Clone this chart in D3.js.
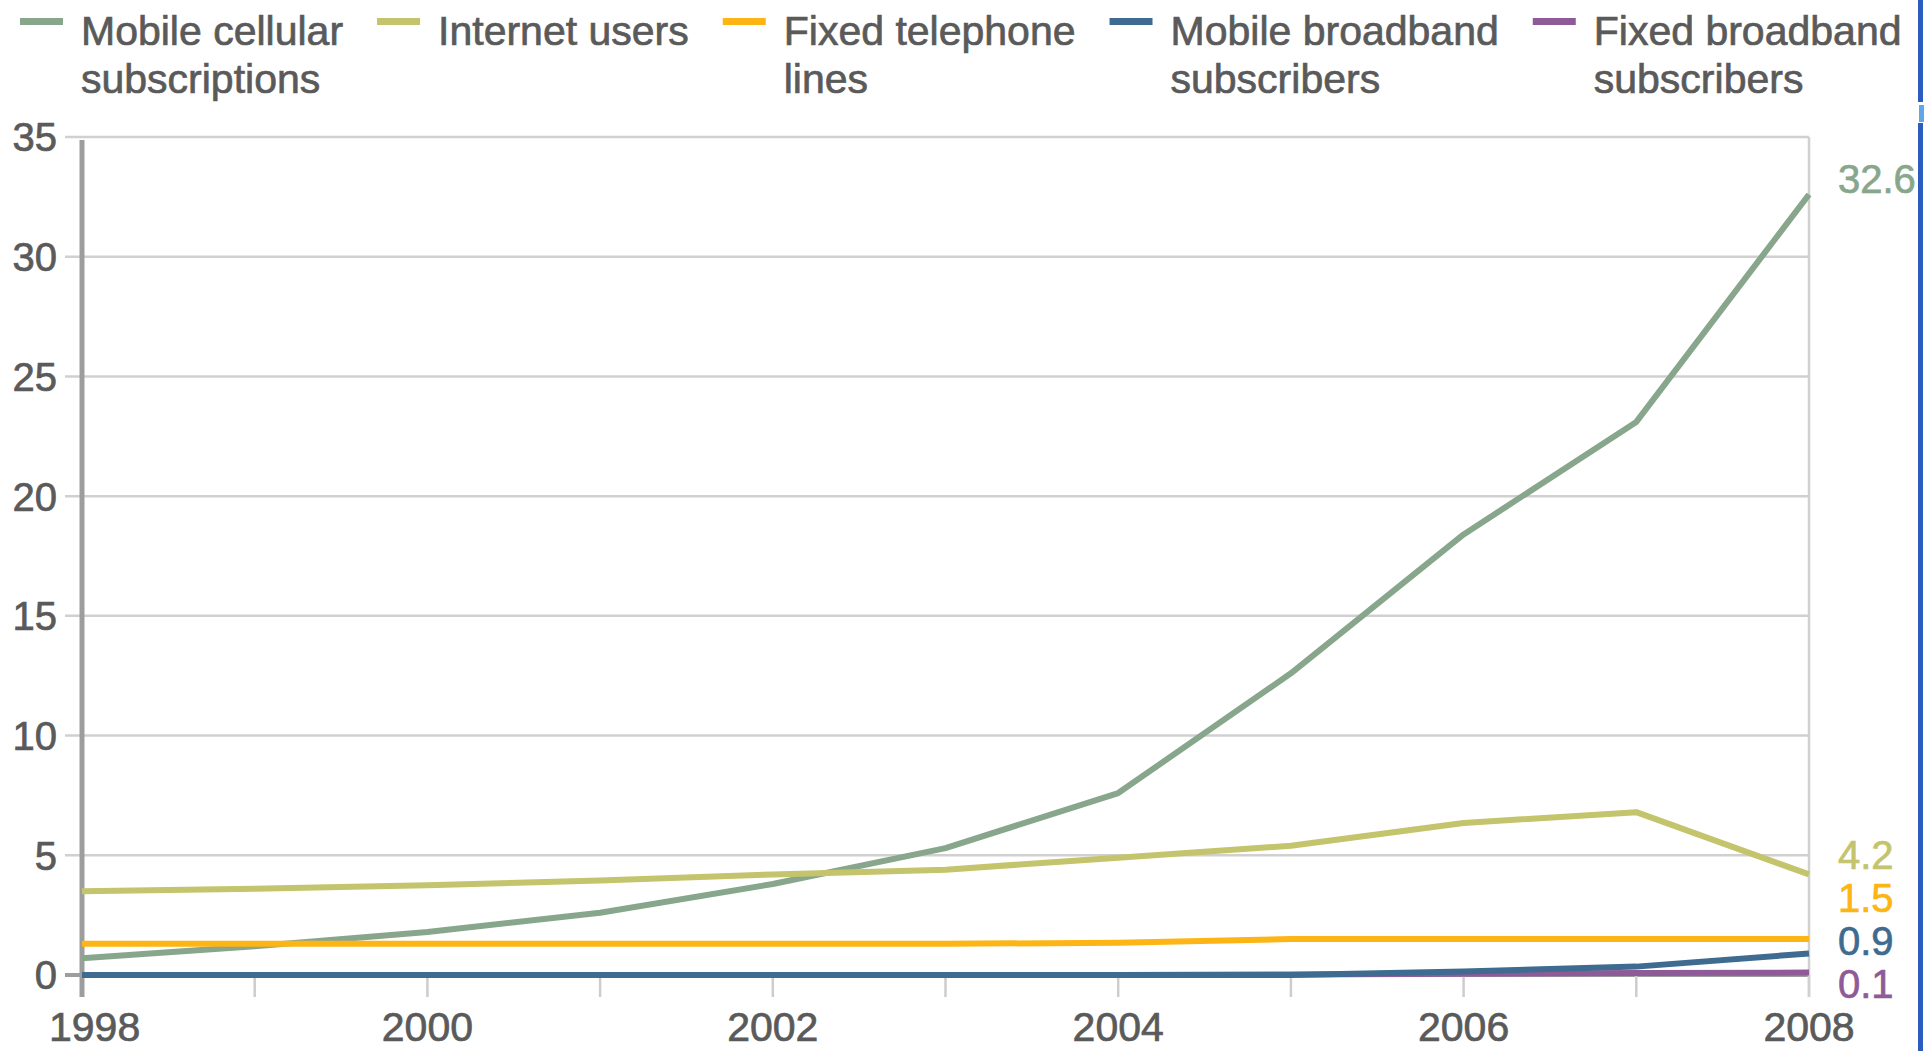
<!DOCTYPE html>
<html>
<head>
<meta charset="utf-8">
<script src="https://cdn.jsdelivr.net/npm/d3@7"></script>
<style>
  html, body { margin: 0; padding: 0; background: #fff; }
  svg { display: block; }
  text { font-family: "Liberation Sans", Arial, sans-serif; stroke-width: 0.7px; paint-order: stroke; }
</style>
</head>
<body>
<svg id="chart" width="1927" height="1051"></svg>
<script>
// Subscriptions per 100 inhabitants, 1998-2008
const years = [1998, 1999, 2000, 2001, 2002, 2003, 2004, 2005, 2006, 2007, 2008];
const mobileCellular  = [0.7, 1.2, 1.8, 2.6, 3.8, 5.3, 7.6, 12.6, 18.4, 23.1, 32.6];
const internetUsers   = [3.5, 3.6, 3.75, 3.95, 4.2, 4.4, 4.9, 5.4, 6.35, 6.8, 4.2];
const fixedTelephone  = [1.3, 1.3, 1.3, 1.3, 1.3, 1.3, 1.35, 1.5, 1.5, 1.5, 1.5];
const mobileBroadband = [0, 0, 0, 0, 0, 0, 0, 0, 0.15, 0.35, 0.9];
const fixedBroadband  = [0, 0, 0, 0, 0, 0, 0, 0.02, 0.05, 0.08, 0.1];

const seriesNames = [
  ["Mobile cellular", "subscriptions"],
  ["Internet users"],
  ["Fixed telephone", "lines"],
  ["Mobile broadband", "subscribers"],
  ["Fixed broadband", "subscribers"]
];
const seriesValues = [mobileCellular, internetUsers, fixedTelephone, mobileBroadband, fixedBroadband];
const seriesColors = ["#88a68b", "#c3c46c", "#fdb515", "#3e6b8f", "#8e5b98"];

const yTicks = [0, 5, 10, 15, 20, 25, 30, 35];
const xTickLabels = [1998, 2000, 2002, 2004, 2006, 2008];

const svg = d3.select("#chart");
const textColor = "#5a5a5a";

const x = d3.scaleLinear().domain([1998, 2008]).range([82, 1809]);
const y = d3.scaleLinear().domain([0, 35]).range([975, 137]);
const axisBottom = 997;

// horizontal grid lines, reaching a little left of the axis as ticks
svg.append("g").selectAll("line").data(yTicks).join("line")
  .attr("x1", 65).attr("x2", x(2008))
  .attr("y1", d => y(d)).attr("y2", d => y(d))
  .attr("stroke", d => d === 0 ? "#9d9d9d" : "#d0d0d0")
  .attr("stroke-width", d => d === 0 ? 4 : 2.5);

// yearly tick marks below the plot
svg.append("g").selectAll("line").data(years).join("line")
  .attr("x1", d => x(d)).attr("x2", d => x(d))
  .attr("y1", y(0)).attr("y2", axisBottom)
  .attr("stroke", "#cdcdcd").attr("stroke-width", 2.5);

// right frame line
svg.append("line")
  .attr("x1", x(2008)).attr("x2", x(2008))
  .attr("y1", y(35)).attr("y2", axisBottom)
  .attr("stroke", "#d0d0d0").attr("stroke-width", 2.5);

// left axis
svg.append("line")
  .attr("x1", x(1998)).attr("x2", x(1998))
  .attr("y1", y(35) + 3).attr("y2", axisBottom)
  .attr("stroke", "#9d9d9d").attr("stroke-width", 5);

// y tick labels
svg.append("g").selectAll("text").data(yTicks).join("text")
  .attr("x", 57).attr("y", d => y(d)).attr("dy", "0.36em")
  .attr("text-anchor", "end")
  .attr("font-size", 40).attr("fill", textColor).attr("stroke", textColor)
  .text(d => d);

// x tick labels
svg.append("g").selectAll("text").data(xTickLabels).join("text")
  .attr("x", (d, i) => i === 0 ? x(d) - 33 : x(d))
  .attr("y", 1041)
  .attr("text-anchor", (d, i) => i === 0 ? "start" : "middle")
  .attr("font-size", 41).attr("fill", textColor).attr("stroke", textColor)
  .text(d => d);

// series lines (broadband series last so they sit on top at zero)
const drawOrder = [0, 1, 2, 4, 3];
const line = d3.line().x((d, i) => x(years[i])).y(d => y(d));
svg.append("g").selectAll("path").data(drawOrder).join("path")
  .attr("d", k => line(seriesValues[k]))
  .attr("fill", "none")
  .attr("stroke", k => seriesColors[k])
  .attr("stroke-width", 6)
  .attr("stroke-linejoin", "round");

// end-of-line value labels, spread apart so they do not collide
const lastValues = seriesValues.map(v => v[v.length - 1]);
const minGap = 43;
let clusters = lastValues
  .map((v, k) => ({ k, want: y(v) - 16 }))
  .sort((a, b) => a.want - b.want)
  .map(o => ({ items: [o], mean: o.want }));
let merged = true;
while (merged) {
  merged = false;
  for (let i = 0; i < clusters.length - 1; i++) {
    const a = clusters[i], b = clusters[i + 1];
    const aEnd = a.mean + (a.items.length - 1) * minGap / 2;
    const bStart = b.mean - (b.items.length - 1) * minGap / 2;
    if (bStart - aEnd < minGap) {
      const items = a.items.concat(b.items);
      clusters.splice(i, 2, { items, mean: d3.mean(items, o => o.want) });
      merged = true;
      break;
    }
  }
}
const labelPos = [];
clusters.forEach(c => c.items.forEach((o, j) => {
  labelPos[o.k] = c.mean + (j - (c.items.length - 1) / 2) * minGap;
}));
svg.append("g").selectAll("text").data(lastValues).join("text")
  .attr("x", x(2008) + 29)
  .attr("y", (d, k) => labelPos[k]).attr("dy", "0.36em")
  .attr("font-size", 40)
  .attr("fill", (d, k) => seriesColors[k])
  .attr("stroke", (d, k) => seriesColors[k])
  .text(d => d3.format(".1f")(d));

// legend, flowed left to right
const legend = svg.append("g");
let lx = 20;
seriesNames.forEach((lines, k) => {
  const g = legend.append("g").attr("transform", `translate(${lx},0)`);
  g.append("rect").attr("x", 0).attr("y", 18).attr("width", 43).attr("height", 7)
    .attr("fill", seriesColors[k]);
  const t = g.append("text").attr("font-size", 41).attr("fill", textColor).attr("stroke", textColor);
  lines.forEach((s, j) => {
    t.append("tspan").attr("x", 61).attr("y", 45 + j * 48).text(s);
  });
  const w = d3.max(t.selectAll("tspan").nodes(), n => n.getComputedTextLength());
  lx += 61 + w + 34;
});

// window edge on the right
svg.append("rect").attr("x", 1918).attr("y", 0).attr("width", 5).attr("height", 102).attr("fill", "#2c5cbf");
svg.append("rect").attr("x", 1919).attr("y", 105).attr("width", 5).attr("height", 17).attr("fill", "#62a6ea");
svg.append("rect").attr("x", 1918).attr("y", 123).attr("width", 5).attr("height", 928).attr("fill", "#2c5cbf");
</script>
</body>
</html>
